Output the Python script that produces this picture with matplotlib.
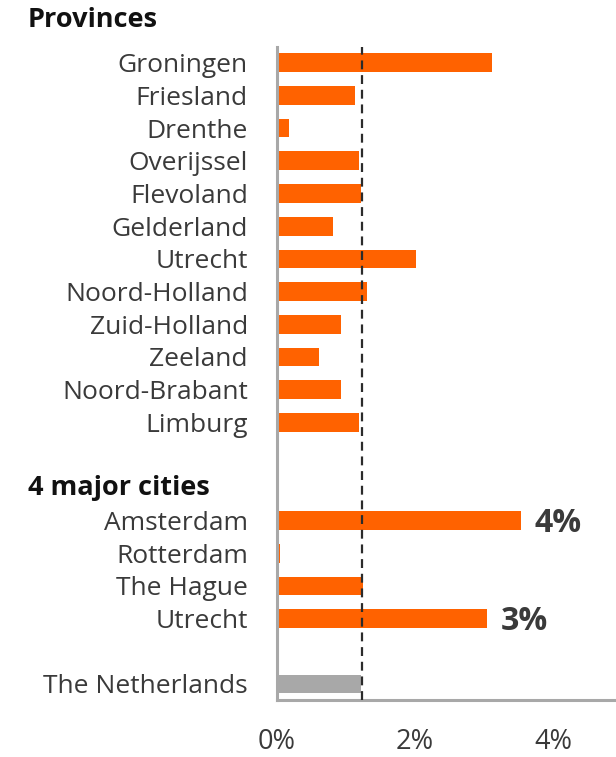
import matplotlib
matplotlib.use("Agg")
import matplotlib.pyplot as plt

plt.rcParams['font.family'] = ['Open Sans', 'DejaVu Sans']

categories = ["Groningen", "Friesland", "Drenthe", "Overijssel", "Flevoland",
              "Gelderland", "Utrecht", "Noord-Holland", "Zuid-Holland", "Zeeland",
              "Noord-Brabant", "Limburg",
              "Amsterdam", "Rotterdam", "The Hague", "Utrecht",
              "The Netherlands"]
values = [3.12, 1.13, 0.17, 1.19, 1.21, 0.81, 2.02, 1.30, 0.93, 0.61, 0.93, 1.19,
          3.53, 0.05, 1.24, 3.04,
          1.22]
row_positions = [0, 1, 2, 3, 4, 5, 6, 7, 8, 9, 10, 11,
                 14, 15, 16, 17,
                 19]
group_headers = ["Provinces", "4 major cities"]
header_rows = [-1.3, 13]
annot_rows = [14, 17]
annot_values = [3.53, 3.04]
annot_texts = ["4%", "3%"]
national_value = 1.23
xticks = [0, 2, 4]
xtick_labels = ["0%", "2%", "4%"]

orange = "#FF6200"
grey = "#A8A8A8"
colors = [orange] * 16 + [grey]

fig = plt.figure(figsize=(6.16, 7.57), dpi=100)
ax = fig.add_axes([277/616, 57/757, 1 - 277/616, (700-47)/757])

ax.barh(row_positions, values, height=0.57, color=colors, edgecolor="none", zorder=2)
ax.axvline(national_value, color="#2b2b2b", linestyle=(0, (4, 2.6)), linewidth=1.6, zorder=3)

ax.set_ylim(19.49, -0.48)
ax.set_xlim(0, 4.91)

ax.set_yticks(row_positions)
ax.set_yticklabels(categories, fontsize=19, color="#3a3a3a")
ax.set_xticks(xticks)
ax.set_xticklabels(xtick_labels, fontsize=19.5, color="#3a3a3a")
ax.tick_params(axis="y", length=0, pad=21)
ax.tick_params(axis="x", length=0, pad=20.5)

for s in ["top", "right"]:
    ax.spines[s].set_visible(False)
for s in ["left", "bottom"]:
    ax.spines[s].set_color("#A8A8A8")
    ax.spines[s].set_linewidth(2.2)

for r, v, t in zip(annot_rows, annot_values, annot_texts):
    ax.annotate(t, xy=(v, r), xytext=(14, -3), textcoords="offset pixels",
                ha="left", va="center", fontsize=23, fontweight="bold", color="#3a3a3a")

for h, r in zip(group_headers, header_rows):
    y_disp = ax.transData.transform((0, r))[1]
    y_fig = fig.transFigure.inverted().transform((0, y_disp))[1]
    fig.text(28/616, y_fig, h, ha="left", va="center", fontsize=19.5,
             fontweight="bold", color="#111111")

fig.savefig("out.png", dpi=100)
